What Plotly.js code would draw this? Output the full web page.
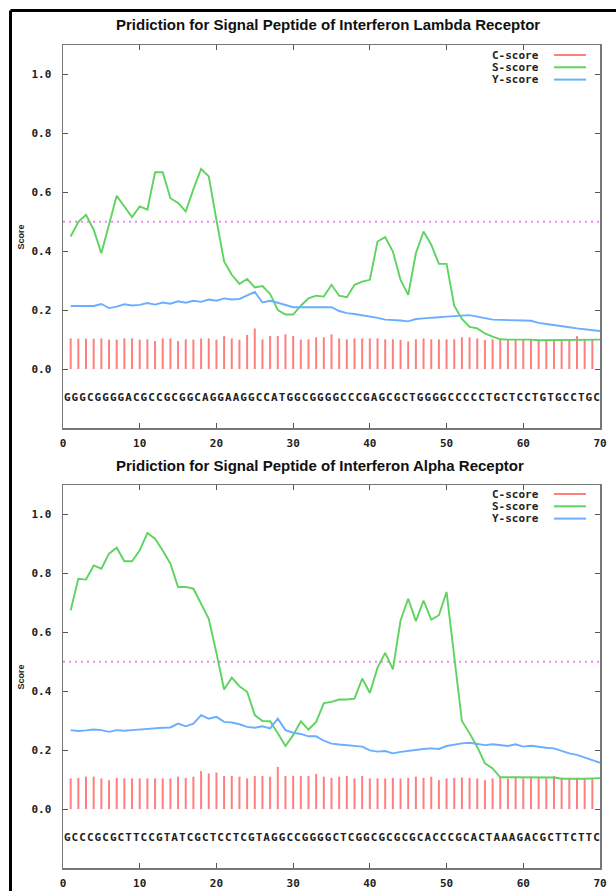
<!DOCTYPE html>
<html>
<head>
<meta charset="utf-8">
<script src="https://cdn.plot.ly/plotly-3.0.1.min.js"></script>
<style>html,body{margin:0;padding:0;background:#fff;}#chart{width:616px;height:891px;}</style>
</head>
<body>
<div id="chart"></div>
<script>
// ---------------- DATA ----------------
const titleLambda = "Pridiction for Signal Peptide of Interferon Lambda Receptor";
const titleAlpha  = "Pridiction for Signal Peptide of Interferon Alpha Receptor";
const seriesNames = ["C-score", "S-score", "Y-score"];
const cutoff = 0.5;
const xTicks = [0, 10, 20, 30, 40, 50, 60, 70];
const yTicks = [0.0, 0.2, 0.4, 0.6, 0.8, 1.0];
const yTickText = ["0.0", "0.2", "0.4", "0.6", "0.8", "1.0"];

const seqLambda = "GGGCGGGGACGCCGCGGCAGGAAGGCCATGGCGGGGCCCGAGCGCTGGGGCCCCCTGCTCCTGTGCCTGC";
const seqAlpha  = "GCCCGCGCTTCCGTATCGCTCCTCGTAGGCCGGGGCTCGGCGCGCGCACCCGCACTAAAGACGCTTCTTC";

const cLambda = [0.104,0.103,0.103,0.103,0.104,0.100,0.100,0.104,0.104,0.100,
                 0.101,0.095,0.104,0.104,0.095,0.101,0.100,0.104,0.104,0.100,
                 0.112,0.104,0.100,0.116,0.138,0.101,0.112,0.112,0.118,0.112,
                 0.100,0.101,0.108,0.108,0.118,0.104,0.101,0.104,0.104,0.104,
                 0.104,0.101,0.101,0.099,0.094,0.101,0.104,0.101,0.101,0.101,
                 0.101,0.108,0.108,0.104,0.099,0.101,0.101,0.101,0.101,0.101,
                 0.101,0.101,0.099,0.101,0.101,0.101,0.112,0.101,0.101];
const sLambda = [0.450,0.500,0.524,0.473,0.393,0.490,0.588,0.552,0.516,0.552,
                 0.541,0.668,0.668,0.580,0.564,0.535,0.611,0.679,0.654,0.507,
                 0.365,0.320,0.289,0.306,0.277,0.282,0.255,0.200,0.185,0.185,
                 0.215,0.240,0.249,0.246,0.286,0.249,0.244,0.286,0.297,0.303,
                 0.433,0.448,0.399,0.303,0.252,0.393,0.467,0.422,0.357,0.357,
                 0.215,0.170,0.143,0.138,0.121,0.110,0.101,0.100,0.100,0.101,
                 0.100,0.098,0.098,0.100,0.099,0.100,0.098,0.100,0.100,0.100];
const yLambda = [0.214,0.214,0.214,0.214,0.221,0.207,0.212,0.220,0.216,0.218,
                 0.224,0.219,0.226,0.222,0.230,0.225,0.232,0.228,0.236,0.232,
                 0.240,0.236,0.238,0.250,0.262,0.226,0.232,0.225,0.218,0.210,
                 0.210,0.210,0.208,0.208,0.210,0.197,0.190,0.187,0.183,0.178,
                 0.174,0.168,0.167,0.165,0.162,0.170,0.172,0.175,0.176,0.178,
                 0.180,0.182,0.183,0.178,0.174,0.168,0.167,0.167,0.166,0.165,
                 0.164,0.157,0.153,0.150,0.146,0.142,0.138,0.135,0.130,0.129];

const cAlpha = [0.104,0.106,0.110,0.110,0.104,0.098,0.106,0.104,0.104,0.104,
                0.104,0.104,0.104,0.104,0.110,0.106,0.110,0.129,0.121,0.124,
                0.112,0.113,0.110,0.104,0.112,0.112,0.110,0.143,0.112,0.113,
                0.112,0.112,0.119,0.110,0.106,0.110,0.112,0.104,0.112,0.104,
                0.104,0.104,0.106,0.104,0.106,0.110,0.106,0.110,0.098,0.104,
                0.106,0.107,0.106,0.104,0.098,0.104,0.110,0.104,0.110,0.104,
                0.110,0.106,0.104,0.112,0.106,0.104,0.104,0.104,0.104];
const sAlpha = [0.675,0.782,0.779,0.827,0.816,0.867,0.887,0.841,0.841,0.878,
                0.937,0.918,0.878,0.833,0.754,0.754,0.748,0.695,0.646,0.530,
                0.406,0.446,0.417,0.398,0.319,0.299,0.298,0.257,0.214,0.251,
                0.298,0.270,0.296,0.360,0.364,0.372,0.372,0.375,0.443,0.394,
                0.480,0.530,0.474,0.640,0.714,0.638,0.708,0.643,0.658,0.737,
                0.520,0.299,0.257,0.211,0.155,0.138,0.108,0.108,0.107,0.106,
                0.106,0.106,0.106,0.107,0.103,0.104,0.103,0.103,0.103,0.105];
const yAlpha = [0.268,0.265,0.267,0.270,0.268,0.262,0.268,0.266,0.268,0.270,
                0.272,0.276,0.276,0.277,0.290,0.281,0.290,0.319,0.307,0.313,
                0.296,0.294,0.288,0.279,0.276,0.281,0.274,0.307,0.268,0.259,
                0.255,0.247,0.247,0.232,0.222,0.219,0.217,0.214,0.212,0.199,
                0.195,0.197,0.189,0.194,0.198,0.202,0.204,0.206,0.204,0.214,
                0.219,0.223,0.225,0.220,0.217,0.220,0.216,0.214,0.220,0.212,
                0.215,0.211,0.208,0.206,0.198,0.189,0.184,0.176,0.166,0.157];

// ---------------- STYLE / LAYOUT ----------------
const W = 616, H = 891;
const px = v => v / W;
const py = v => 1 - v / H;
const colC = "#ff7f7f", colS = "#5fd35f", colY = "#6aaeff", colCut = "#ee88f0";
const mono = "DejaVu Sans Mono";
const plotLeft = 63, plotRight = 600;

const panels = [
  {title: titleLambda, seq: seqLambda, c: cLambda, s: sLambda, y: yLambda, top: 45, bottom: 428, titleY: 25, legY: 55, xa: "x", ya: "y"},
  {title: titleAlpha,  seq: seqAlpha,  c: cAlpha,  s: sAlpha,  y: yAlpha,  top: 485, bottom: 868, titleY: 466, legY: 494, xa: "x2", ya: "y2"}
];

const idx = n => Array.from({length: n}, (_, i) => i + 1);

const traces = [];
const annotations = [];
const shapes = [];
const layout = {
  width: W, height: H,
  margin: {l: 0, r: 0, t: 0, b: 0},
  paper_bgcolor: "#fff", plot_bgcolor: "#fff",
  showlegend: false,
  annotations, shapes
};

panels.forEach((p, k) => {
  const xk = k === 0 ? "xaxis" : "xaxis2";
  const yk = k === 0 ? "yaxis" : "yaxis2";
  layout[xk] = {
    domain: [px(plotLeft), px(plotRight)], anchor: p.ya, range: [0, 70],
    tickvals: xTicks, ticks: "inside", ticklen: 5, tickcolor: "#555", tickwidth: 1,
    showline: true, mirror: "ticks", linecolor: "#777", linewidth: 1.5,
    showgrid: false, zeroline: false, fixedrange: true,
    tickfont: {family: mono, size: 11, color: "#222", weight: "bold"},
    ticklabelstandoff: 4
  };
  layout[yk] = {
    domain: [py(p.bottom), py(p.top)], anchor: p.xa, range: [-0.2, 1.1],
    tickvals: yTicks, ticktext: yTickText, ticks: "inside", ticklen: 5, tickcolor: "#555", tickwidth: 1,
    showline: true, mirror: "ticks", linecolor: "#777", linewidth: 1.5,
    showgrid: false, zeroline: false, fixedrange: true,
    tickfont: {family: mono, size: 11, color: "#222", weight: "bold"},
    ticklabelstandoff: 8
  };

  // C-score impulses
  traces.push({type: "bar", x: idx(p.c.length), y: p.c, width: 0.26,
    marker: {color: colC, line: {width: 0}}, xaxis: p.xa, yaxis: p.ya, name: seriesNames[0], hoverinfo: "skip"});
  // cutoff line
  traces.push({type: "scatter", mode: "lines", x: [0, 70], y: [cutoff, cutoff],
    line: {color: colCut, width: 1.8, dash: "2px,4px"}, xaxis: p.xa, yaxis: p.ya, hoverinfo: "skip"});
  // S-score
  traces.push({type: "scatter", mode: "lines", x: idx(p.s.length), y: p.s,
    line: {color: colS, width: 1.9}, xaxis: p.xa, yaxis: p.ya, name: seriesNames[1]});
  // Y-score
  traces.push({type: "scatter", mode: "lines", x: idx(p.y.length), y: p.y,
    line: {color: colY, width: 1.9}, xaxis: p.xa, yaxis: p.ya, name: seriesNames[2]});
  // sequence letters
  const letters = p.seq.split("");
  traces.push({type: "scatter", mode: "text", x: letters.map((_, i) => i + 0.55), y: letters.map(() => -0.1),
    text: letters, textposition: "middle center", cliponaxis: true,
    textfont: {family: mono, size: 11, color: "#222", weight: "bold"},
    xaxis: p.xa, yaxis: p.ya, hoverinfo: "skip"});

  // title
  annotations.push({text: p.title, xref: "paper", yref: "paper", x: px(114), y: py(p.titleY),
    xanchor: "left", yanchor: "middle", showarrow: false,
    font: {family: "Liberation Sans Narrow, Liberation Sans, Arial", size: 15, color: "#111", weight: "bold"}});
  // y axis title
  annotations.push({text: "Score", xref: "paper", yref: "paper", x: px(20), y: py((p.top + p.bottom) / 2),
    xanchor: "center", yanchor: "middle", textangle: -90, showarrow: false,
    font: {family: "Liberation Sans", size: 9, color: "#222", weight: "bold"}});
  // legend
  const legCols = [colC, colS, colY];
  seriesNames.forEach((nm, j) => {
    const yy = p.legY + j * 12.3;
    annotations.push({text: nm, xref: "paper", yref: "paper", x: px(541), y: py(yy),
      xanchor: "right", yanchor: "middle", showarrow: false,
      font: {family: mono, size: 11, color: "#222", weight: "bold"}});
    shapes.push({type: "line", xref: "paper", yref: "paper", x0: px(554), x1: px(586), y0: py(yy), y1: py(yy),
      line: {color: legCols[j], width: 2}});
  });
});

// outer border (top and left)
shapes.push({type: "line", xref: "paper", yref: "paper", x0: px(10.5), x1: px(616), y0: py(10.5), y1: py(10.5), line: {color: "#000", width: 3}});
shapes.push({type: "line", xref: "paper", yref: "paper", x0: px(10.5), x1: px(10.5), y0: py(10.5), y1: py(891), line: {color: "#000", width: 3}});

Plotly.newPlot("chart", traces, layout, {staticPlot: true, displayModeBar: false});
</script>
</body>
</html>
